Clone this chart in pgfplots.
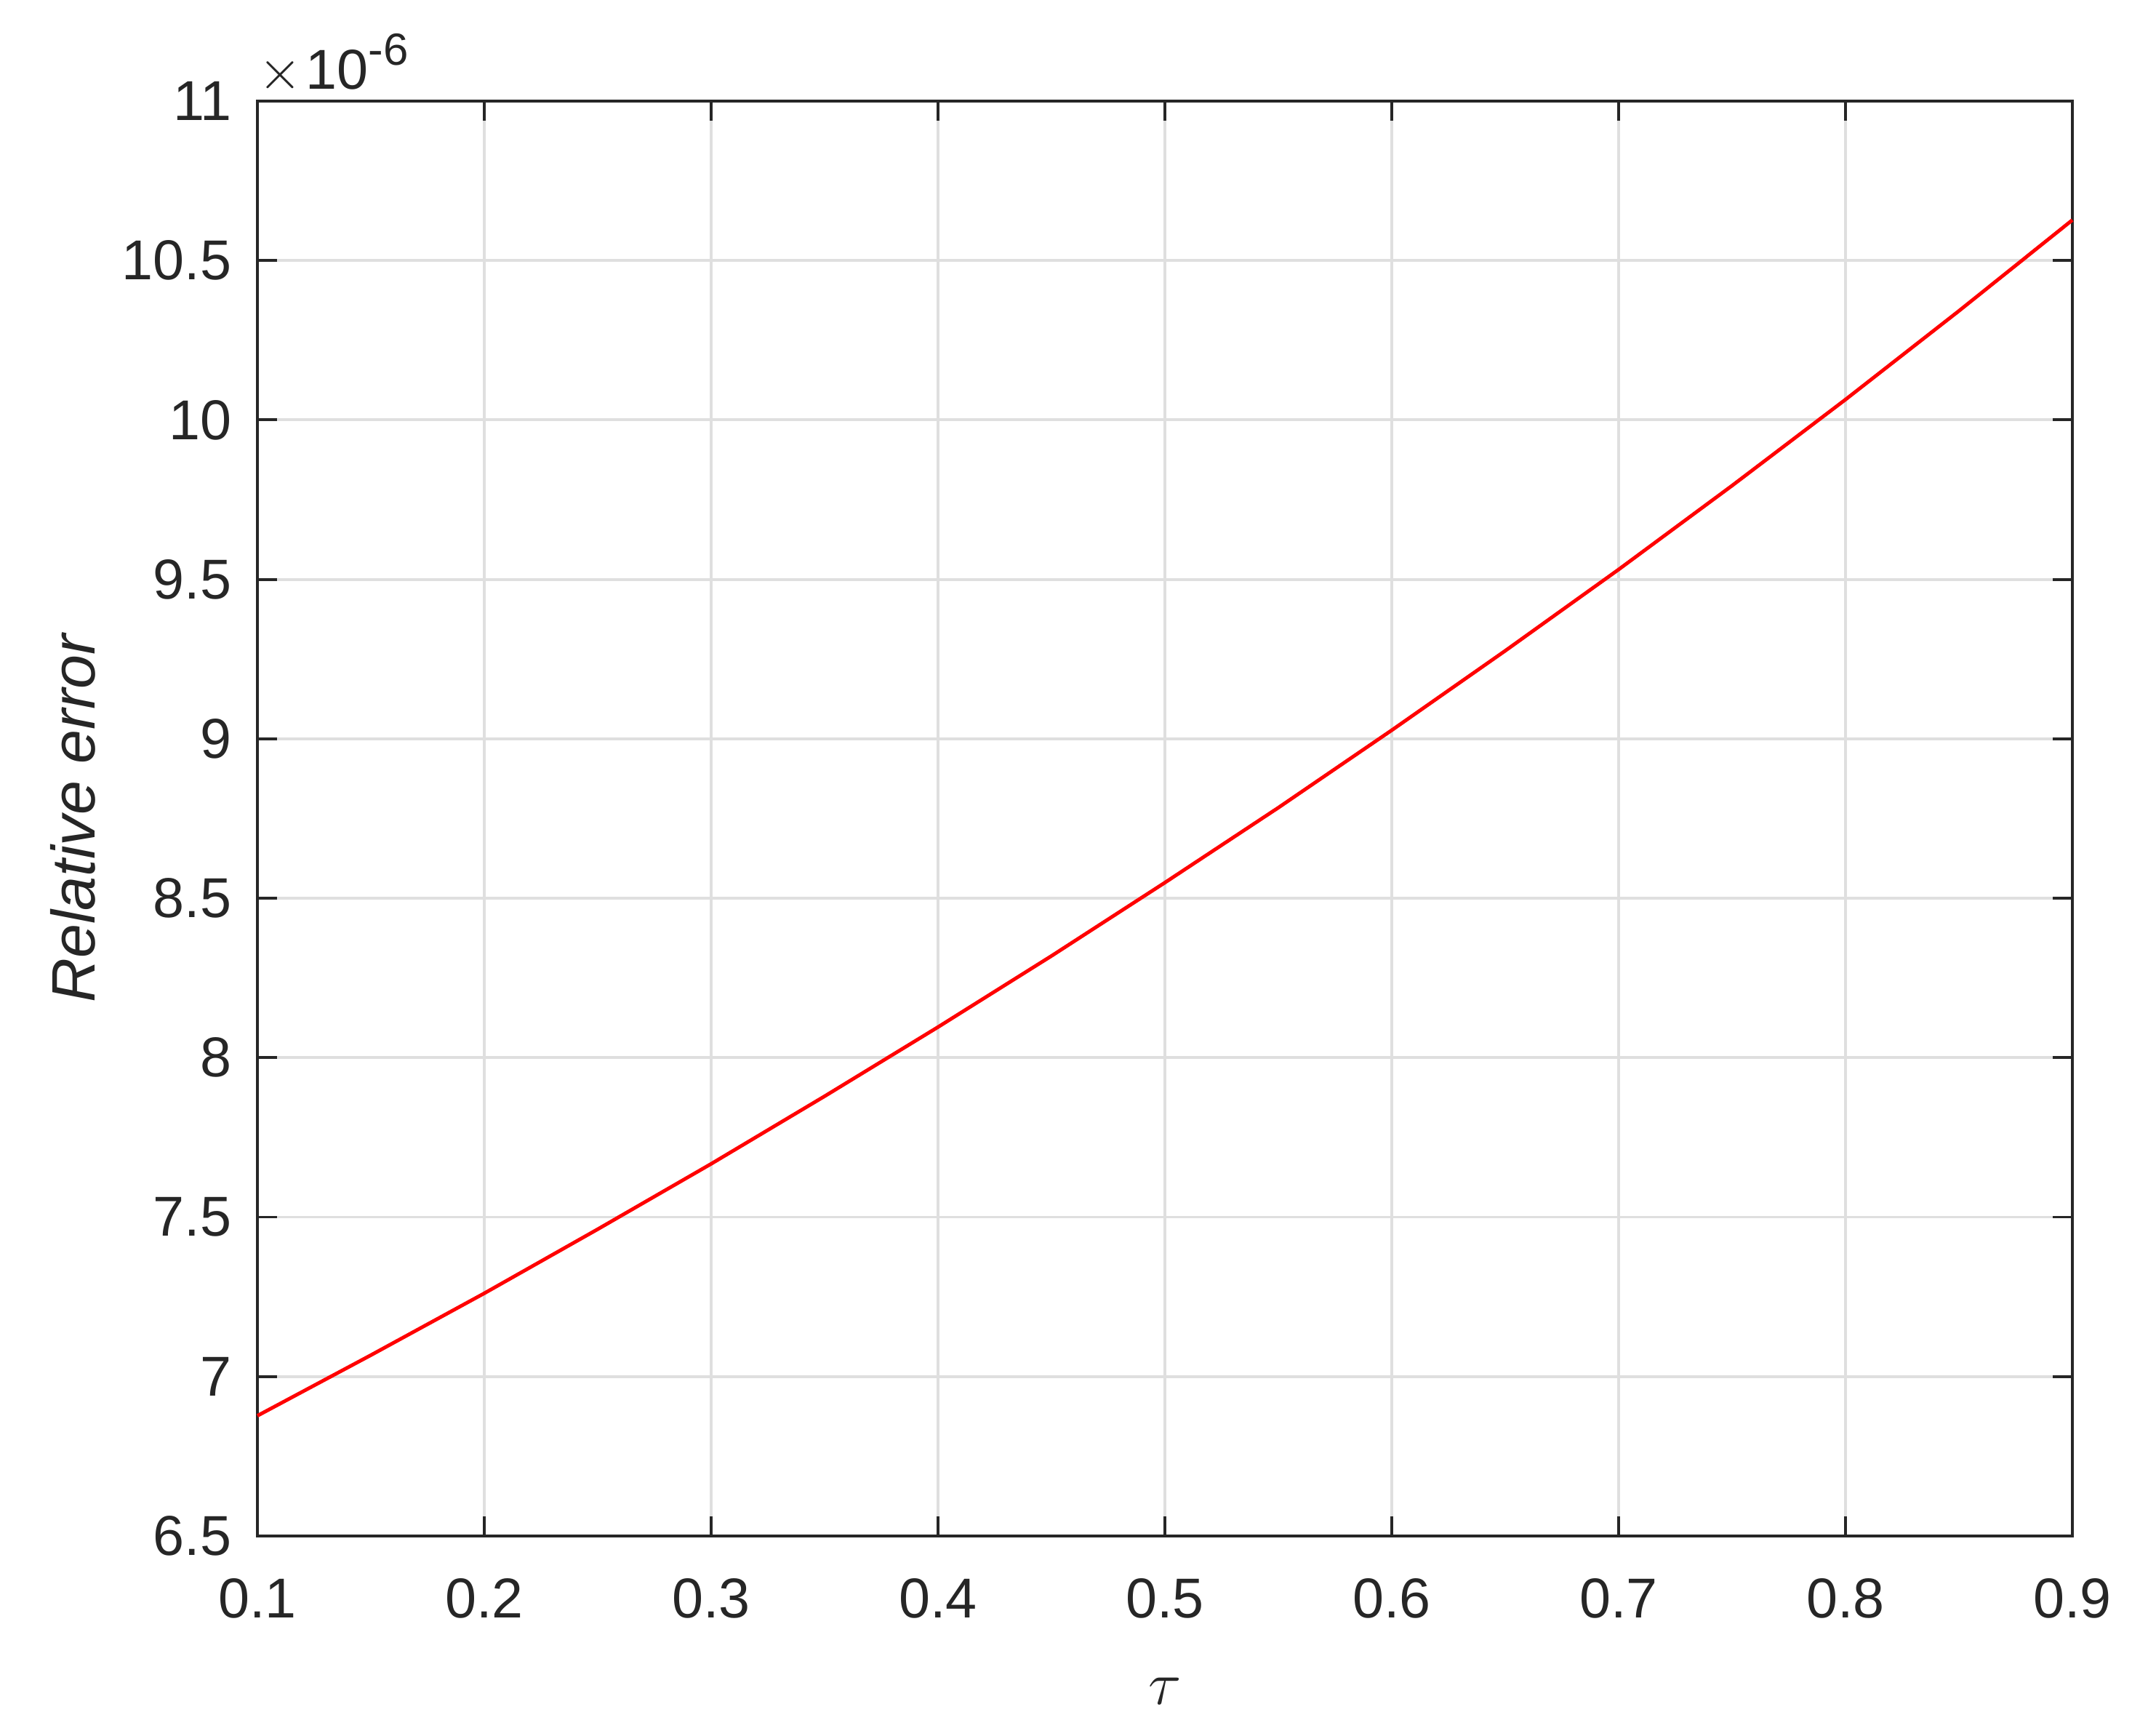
\documentclass[border=0pt]{standalone}
\usepackage{pgfplots}
\pgfplotsset{compat=1.18}
\usepackage{fontspec}
\setmainfont{Liberation Sans}
\definecolor{axgray}{HTML}{262626}
\definecolor{gridgray}{HTML}{DFDFDF}
\begin{document}
\fontsize{11}{13}\selectfont
\begin{tikzpicture}
\begin{axis}[
  scale only axis, width=12.48cm, height=9.865cm,
  xmin=0.1, xmax=0.9, ymin=6.5, ymax=11,
  xtick={0.1,0.2,0.3,0.4,0.5,0.6,0.7,0.8,0.9},
  ytick={6.5,7,7.5,8,8.5,9,9.5,10,10.5,11},
  scaled ticks=false,
  /pgf/number format/assume math mode=true,
  tick align=inside, tick pos=both, major tick length=0.135cm,
  axis line style={axgray, line width=0.55pt},
  every tick/.style={axgray, line width=0.55pt},
  grid=major, major grid style={gridgray, line width=0.55pt},
  tick label style={text=axgray},
  yticklabel style={xshift=-1.2pt},
  xticklabel style={yshift=-4.5pt},
  every axis x label/.style={at={(rel axis cs:0.5,0)}, yshift=-1.065cm, anchor=center, text=axgray, font=\fontsize{12.1}{14}\selectfont},
  every axis y label/.style={at={(rel axis cs:0,0.5)}, xshift=-1.27cm, rotate=90, anchor=center, text=axgray, font=\fontsize{12}{14}\selectfont},
  xlabel={$\tau$},
  ylabel={\itshape Relative error},
  clip=false,
]
\addplot[red, line width=0.7pt] coordinates {
  (0.10,6.877) (0.15,7.067) (0.20,7.261) (0.25,7.462) (0.30,7.667)
  (0.35,7.879) (0.40,8.096) (0.45,8.319) (0.50,8.549) (0.55,8.784)
  (0.60,9.027) (0.65,9.276) (0.70,9.531) (0.75,9.794) (0.80,10.064)
  (0.85,10.342) (0.90,10.627)
};
\node[anchor=base west, inner sep=0pt, text=axgray, yshift=0.08cm] at (rel axis cs:0,1)
  {$\times$\hspace{0.8pt}10\raisebox{4.8pt}{\fontsize{8.8}{10}\selectfont -6}};
\end{axis}
\pgfresetboundingbox
\path ([xshift=-1.77cm,yshift=-1.375cm]current axis.south west) rectangle ([xshift=0.465cm,yshift=0.695cm]current axis.north east);
\end{tikzpicture}
\end{document}
